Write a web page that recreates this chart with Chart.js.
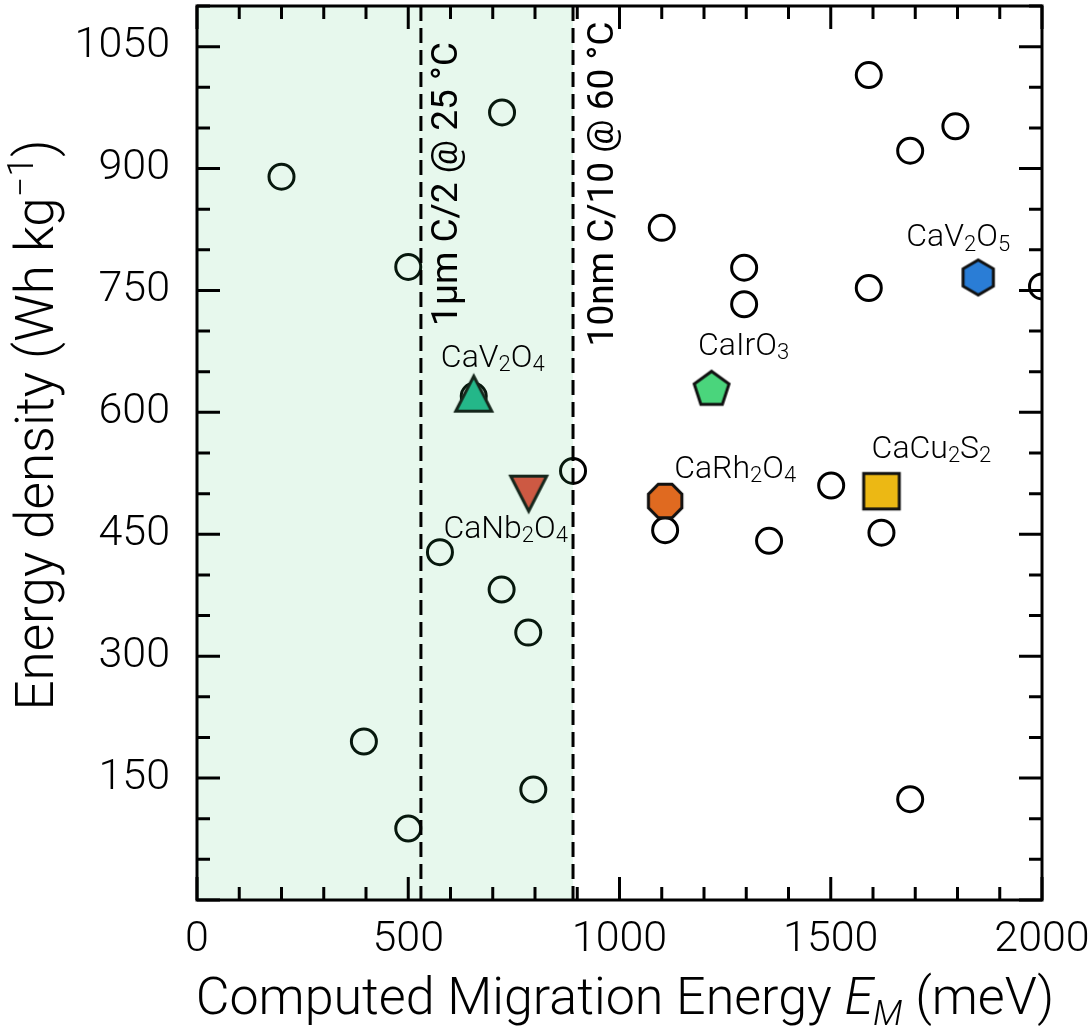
<!DOCTYPE html>
<html>
<head>
<meta charset="utf-8">
<script src="https://cdn.jsdelivr.net/npm/chart.js@4.4.1/dist/chart.umd.min.js"></script>
<style>
  html, body { margin: 0; padding: 0; background: #fff; }
  canvas { display: block; }
</style>
</head>
<body>
<canvas id="chart" width="1092" height="1036"></canvas>
<script>
// other screened compounds (open circles)
const otherX = [200, 722, 500, 655, 575, 721, 784, 395, 796, 500, 890, 1100, 1295, 1295, 1590, 1795, 1688, 1590, 2000, 1108, 1354, 1501, 1620, 1688];
const otherY = [890, 969, 779, 620, 428, 382, 329, 195, 136, 88, 528, 827, 778, 733, 1015, 952, 922, 753, 755, 455, 442, 510, 452, 124];

// highlighted compounds
const highlightNames = ['CaV2O4', 'CaNb2O4', 'CaIrO3', 'CaRh2O4', 'CaCu2S2', 'CaV2O5'];
const highlightX = [655, 785, 1218, 1108, 1620, 1849];
const highlightY = [623, 500, 628, 491, 503, 766];
const highlightShapes = ['triUp', 'triDown', 'pentagon', 'octagon', 'square', 'hexagon'];
const highlightColors = ['#22b68e', '#e24a3e', '#4ad57c', '#e06a20', '#ecb814', '#2a7dd6'];

// migration energy limits
const limitX = [530, 890];
const limitLabels = ['1μm C/2 @ 25 °C', '10nm C/10 @ 60 °C'];

const xTicks = [0, 500, 1000, 1500, 2000];
const yTicks = [150, 300, 450, 600, 750, 900, 1050];

// label offsets from marker centre (px): [dx, dy to baseline]
const labelOffsets = [[19, -27], [-23, 44], [32, -35], [70, -23], [50, -33], [-20, -31]];
const limitLabelOffsets = [36, 40];

const FONT = 'Roboto, "Liberation Sans", sans-serif';
Chart.defaults.font.family = FONT;

function makeMarker(shape, fill) {
    const c = document.createElement('canvas');
    c.width = c.height = 46;
    const g = c.getContext('2d');
    g.translate(23, 23);
    g.beginPath();
    const poly = (n, r, start) => {
        for (let i = 0; i < n; i++) {
            const a = start + i * 2 * Math.PI / n;
            g.lineTo(r * Math.cos(a), r * Math.sin(a));
        }
        g.closePath();
    };
    if (shape === 'triUp') { g.moveTo(0, -17.5); g.lineTo(18, 17.5); g.lineTo(-18, 17.5); g.closePath(); }
    else if (shape === 'triDown') { g.moveTo(0, 17.5); g.lineTo(18, -17.5); g.lineTo(-18, -17.5); g.closePath(); }
    else if (shape === 'square') g.rect(-17.8, -17.8, 35.6, 35.6);
    else if (shape === 'pentagon') poly(5, 18.3, -Math.PI / 2);
    else if (shape === 'hexagon') poly(6, 17.5, -Math.PI / 2);
    else if (shape === 'octagon') poly(8, 18.1, Math.PI / 8);
    g.fillStyle = fill;
    g.fill();
    g.lineWidth = 3;
    g.lineJoin = 'miter';
    g.strokeStyle = '#111';
    g.stroke();
    return c;
}

// draw text made of pieces with different fonts / offsets
function drawRich(ctx, parts, x, y, align) {
    let w = 0;
    parts.forEach(p => { ctx.font = p.font; p.w = ctx.measureText(p.text).width; w += p.w; });
    let cx = align === 'center' ? x - w / 2 : x;
    parts.forEach(p => {
        ctx.font = p.font;
        ctx.fillText(p.text, cx, y + (p.dy || 0));
        cx += p.w;
    });
}

function formulaParts(name, size) {
    return name.match(/[A-Za-z]+|\d+/g).map(s => /\d/.test(s)
        ? { text: s, font: `300 ${Math.round(size * 0.7)}px ${FONT}`, dy: size * 0.13 }
        : { text: s, font: `300 ${size}px ${FONT}` });
}

const shadePlugin = {
    id: 'shade',
    afterDatasetsDraw(chart) {
        const { ctx, chartArea, scales } = chart;
        const x0 = scales.x.getPixelForValue(0);
        const x1 = scales.x.getPixelForValue(limitX[1]);
        ctx.save();
        ctx.fillStyle = 'rgba(60, 200, 110, 0.12)';
        ctx.fillRect(x0, chartArea.top, x1 - x0, chartArea.bottom - chartArea.top);
        ctx.restore();
    }
};

const decorPlugin = {
    id: 'decor',
    afterDraw(chart) {
        const { ctx, chartArea, scales } = chart;
        const { left, right, top, bottom } = chartArea;
        const xs = scales.x, ys = scales.y;
        ctx.save();

        // dashed limit lines
        ctx.strokeStyle = '#000';
        ctx.lineWidth = 3;
        ctx.setLineDash([15, 7]);
        limitX.forEach(v => {
            const px = xs.getPixelForValue(v);
            ctx.beginPath();
            ctx.moveTo(px, top);
            ctx.lineTo(px, bottom);
            ctx.stroke();
        });
        ctx.setLineDash([]);

        // inward ticks on all sides
        ctx.lineWidth = 3;
        ctx.beginPath();
        for (let v = 0; v <= 2000; v += 100) {
            const px = xs.getPixelForValue(v);
            const len = v % 500 === 0 ? 23 : 13;
            ctx.moveTo(px, bottom); ctx.lineTo(px, bottom - len);
            ctx.moveTo(px, top); ctx.lineTo(px, top + len);
        }
        for (let v = 0; v <= 1100; v += 50) {
            const py = ys.getPixelForValue(v);
            const len = v % 150 === 0 ? 23 : 13;
            ctx.moveTo(left, py); ctx.lineTo(left + len, py);
            ctx.moveTo(right, py); ctx.lineTo(right - len, py);
        }
        ctx.stroke();
        ctx.strokeRect(left, top, right - left, bottom - top);

        // limit labels (vertical)
        ctx.fillStyle = '#000';
        ctx.textAlign = 'center';
        ctx.textBaseline = 'alphabetic';
        ctx.font = `400 37px ${FONT}`;
        limitX.forEach((v, i) => {
            const px = xs.getPixelForValue(v) + limitLabelOffsets[i];
            ctx.save();
            ctx.translate(px, top + 178);
            ctx.rotate(-Math.PI / 2);
            ctx.fillText(limitLabels[i], 0, 0);
            ctx.restore();
        });

        // compound labels
        ctx.textAlign = 'left';
        highlightNames.forEach((n, i) => {
            const px = xs.getPixelForValue(highlightX[i]) + labelOffsets[i][0];
            const py = ys.getPixelForValue(highlightY[i]) + labelOffsets[i][1];
            drawRich(ctx, formulaParts(n, 32), px, py, 'center');
        });

        // axis titles
        const tx = 52, ty = 53;
        drawRich(ctx, [
            { text: 'Computed Migration Energy ', font: `300 ${tx}px ${FONT}` },
            { text: 'E', font: `italic 300 ${tx}px ${FONT}` },
            { text: 'M', font: `italic 300 ${Math.round(tx * 0.68)}px ${FONT}`, dy: tx * 0.22 },
            { text: ' (meV)', font: `300 ${tx}px ${FONT}` }
        ], 625, 1014, 'center');

        ctx.save();
        ctx.translate(53, 425);
        ctx.rotate(-Math.PI / 2);
        drawRich(ctx, [
            { text: 'Energy density (Wh kg', font: `300 ${ty}px ${FONT}` },
            { text: '−1', font: `300 ${Math.round(ty * 0.68)}px ${FONT}`, dy: -ty * 0.38 },
            { text: ')', font: `300 ${ty}px ${FONT}` }
        ], 0, 0, 'center');
        ctx.restore();

        ctx.restore();
    }
};

const datasets = [
    {
        label: 'Other compounds',
        data: otherX.map((x, i) => ({ x: x, y: otherY[i] })),
        pointStyle: 'circle',
        pointRadius: 12.5,
        pointBorderWidth: 3,
        pointBackgroundColor: '#fff',
        pointBorderColor: '#000',
        clip: 0,
        order: 2
    },
    ...highlightNames.map((n, i) => ({
        label: n,
        data: [{ x: highlightX[i], y: highlightY[i] }],
        pointStyle: makeMarker(highlightShapes[i], highlightColors[i]),
        pointRadius: 20,
        order: 1
    }))
];

new Chart(document.getElementById('chart').getContext('2d'), {
    type: 'scatter',
    data: { datasets: datasets },
    options: {
        responsive: false,
        animation: false,
        layout: { autoPadding: false, padding: { top: 6, right: 50, left: 0, bottom: 0 } },
        plugins: {
            legend: { display: false },
            tooltip: { enabled: false }
        },
        scales: {
            x: {
                type: 'linear',
                min: 0,
                max: 2000,
                afterBuildTicks: s => { s.ticks = xTicks.map(v => ({ value: v })); },
                afterFit: s => { s.height = 136; s.paddingLeft = 0; s.paddingRight = 0; },
                grid: { display: false, drawTicks: false },
                border: { display: false },
                ticks: {
                    font: { size: 43, weight: 300 }, color: '#000', padding: 14, maxRotation: 0, autoSkip: false,
                    callback: v => String(v)
                }
            },
            y: {
                type: 'linear',
                min: 0,
                max: 1100,
                afterBuildTicks: s => { s.ticks = yTicks.map(v => ({ value: v })); },
                afterFit: s => { s.width = 197; s.paddingTop = 0; s.paddingBottom = 0; },
                grid: { display: false, drawTicks: false },
                border: { display: false },
                ticks: {
                    font: { size: 43, weight: 300 }, color: '#000', padding: 27, autoSkip: false,
                    callback: v => String(v)
                }
            }
        }
    },
    plugins: [shadePlugin, decorPlugin]
});
</script>
</body>
</html>
